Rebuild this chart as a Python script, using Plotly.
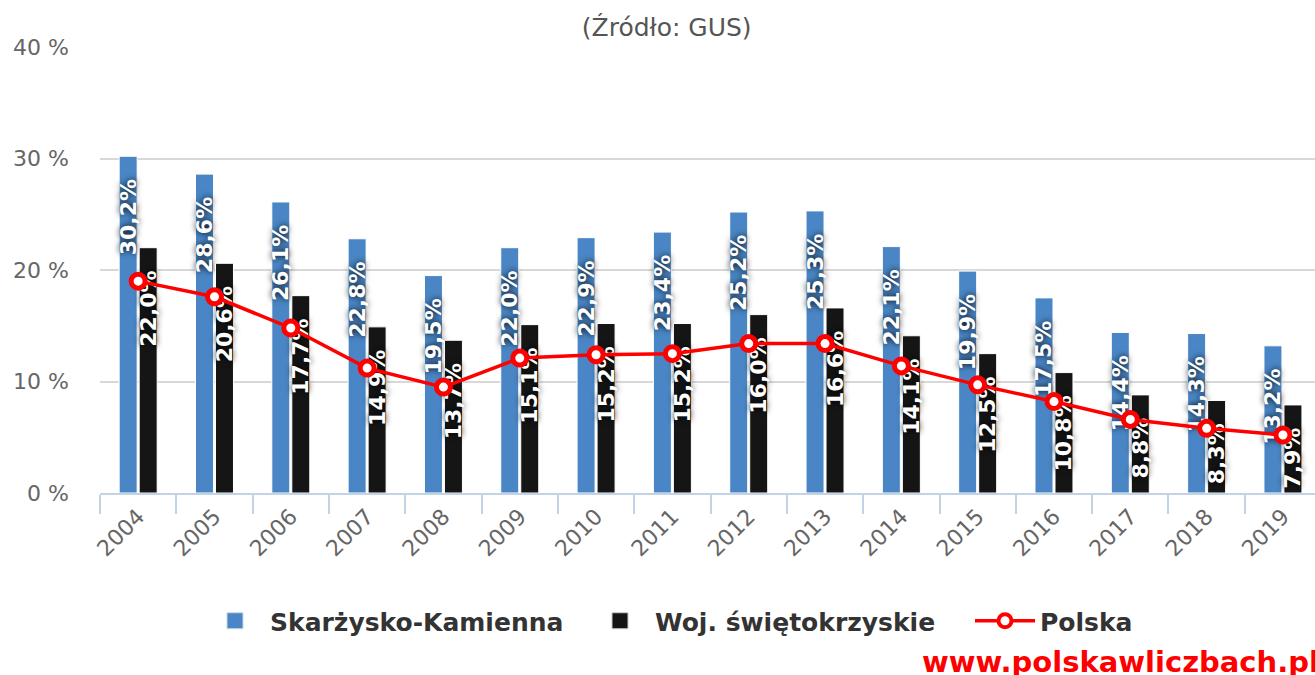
import plotly.graph_objects as go

years = ["2004", "2005", "2006", "2007", "2008", "2009", "2010", "2011",
         "2012", "2013", "2014", "2015", "2016", "2017", "2018", "2019"]
skarzysko = [30.2, 28.6, 26.1, 22.8, 19.5, 22.0, 22.9, 23.4,
             25.2, 25.3, 22.1, 19.9, 17.5, 14.4, 14.3, 13.2]
swietokrzyskie = [22.0, 20.6, 17.7, 14.9, 13.7, 15.1, 15.2, 15.2,
                  16.0, 16.6, 14.1, 12.5, 10.8, 8.8, 8.3, 7.9]
polska = [19.0, 17.6, 14.8, 11.2, 9.5, 12.1, 12.4, 12.5,
          13.4, 13.4, 11.4, 9.7, 8.2, 6.6, 5.8, 5.2]
y_ticks = [0, 10, 20, 30, 40]
y_ticktext = ["0 %", "10 %", "20 %", "30 %", "40 %"]

name_a = "Skarżysko-Kamienna"
name_b = "Woj. świętokrzyskie"
name_c = "Polska"

def fmt(v):
    # trailing no-break spaces keep the label a little below the bar top
    return f"{v:.1f}".replace(".", ",") + "%" + "\u00a0\u00a0\u2009"

BLUE = "#4a86c5"
BLACK = "#151515"

label_font = dict(family="DejaVu Sans", size=22, color="white", weight="bold",
                  shadow="0px 0px 6px black")

fig = go.Figure()
fig.add_trace(go.Bar(x=years, y=skarzysko, name=name_a, showlegend=False,
                     text=[fmt(v) for v in skarzysko], texttemplate="%{text}",
                     textposition="inside", insidetextanchor="end", textangle=-90,
                     constraintext="none", textfont=label_font,
                     marker=dict(color=BLUE, line=dict(color="white", width=1))))
fig.add_trace(go.Bar(x=years, y=swietokrzyskie, name=name_b, showlegend=False,
                     text=[fmt(v) for v in swietokrzyskie], texttemplate="%{text}",
                     textposition="inside", insidetextanchor="end", textangle=-90,
                     constraintext="none", textfont=label_font,
                     marker=dict(color=BLACK, line=dict(color="white", width=1))))
fig.add_trace(go.Scatter(x=years, y=polska, name=name_c, mode="lines+markers", showlegend=False,
                         line=dict(color="#ff0000", width=3.5),
                         marker=dict(symbol="circle", size=14, color="white",
                                     line=dict(color="#ff0000", width=5))))
# legend entries
fig.add_trace(go.Scatter(x=[None], y=[None], name=name_a, mode="markers",
                         marker=dict(symbol="square", size=20, color=BLUE,
                                     line=dict(color="#c8d8ea", width=1))))
fig.add_trace(go.Scatter(x=[None], y=[None], name=name_b, mode="markers",
                         marker=dict(symbol="square", size=20, color=BLACK,
                                     line=dict(color="#cccccc", width=1))))
fig.add_trace(go.Scatter(x=[None], y=[None], name=name_c, mode="lines+markers",
                         line=dict(color="#ff0000", width=3.5),
                         marker=dict(symbol="circle", size=13, color="white",
                                     line=dict(color="#ff0000", width=4))))

W, H = 1315, 675
ml, mr, mt, mb = 100, 0, 47, 182

annotations = [dict(x=(920 - ml) / (W - ml - mr), y=1 - (662 - mt) / (H - mt - mb),
                    xref="paper", yref="paper", text="www.polskawliczbach.pl",
                    showarrow=False, xanchor="left", yanchor="middle",
                    font=dict(family="DejaVu Sans", size=29, color="#ff0000", weight="bold"))]

fig.update_layout(
    width=W, height=H,
    margin=dict(l=ml, r=mr, t=mt, b=mb, autoexpand=False),
    paper_bgcolor="white", plot_bgcolor="white",
    font=dict(family="DejaVu Sans", color="#666666"),
    barmode="group", bargap=0.476, bargroupgap=0.1,
    title=dict(text="(Źródło: GUS)", x=0.507, xref="container", xanchor="center",
               y=1 - 27 / H, yref="container", yanchor="middle",
               font=dict(family="DejaVu Sans", size=25, color="#555555")),
    legend=dict(orientation="h", x=200 / W, xref="container", xanchor="left",
                y=1 - 621 / H, yref="container", yanchor="middle",
                font=dict(family="DejaVu Sans", size=25, color="#333333", weight="bold"),
                itemsizing="trace", itemwidth=60, traceorder="normal",
                entrywidth=310, entrywidthmode="pixels"),
    annotations=annotations,
    xaxis=dict(type="category", range=[-0.5, 15.42], showgrid=False, automargin=False,
               showline=True, linecolor="#c3d3e6", linewidth=2,
               ticks="outside", tickson="boundaries", ticklen=19, tickwidth=2,
               tickcolor="#c3d3e6", tickangle=-45,
               tickfont=dict(family="DejaVu Sans", size=22, color="#666666")),
    yaxis=dict(range=[0, 40], tickmode="array", tickvals=y_ticks, ticktext=y_ticktext,
               automargin=False,
               showgrid=True, gridcolor="#d8d8d8", gridwidth=2,
               zeroline=False, showline=False, ticks="",
               ticklabelstandoff=30,
               tickfont=dict(family="DejaVu Sans", size=22, color="#666666")),
)

fig.write_html("out.html", config={"displayModeBar": False},
               post_script="document.body.style.margin='0px';")
